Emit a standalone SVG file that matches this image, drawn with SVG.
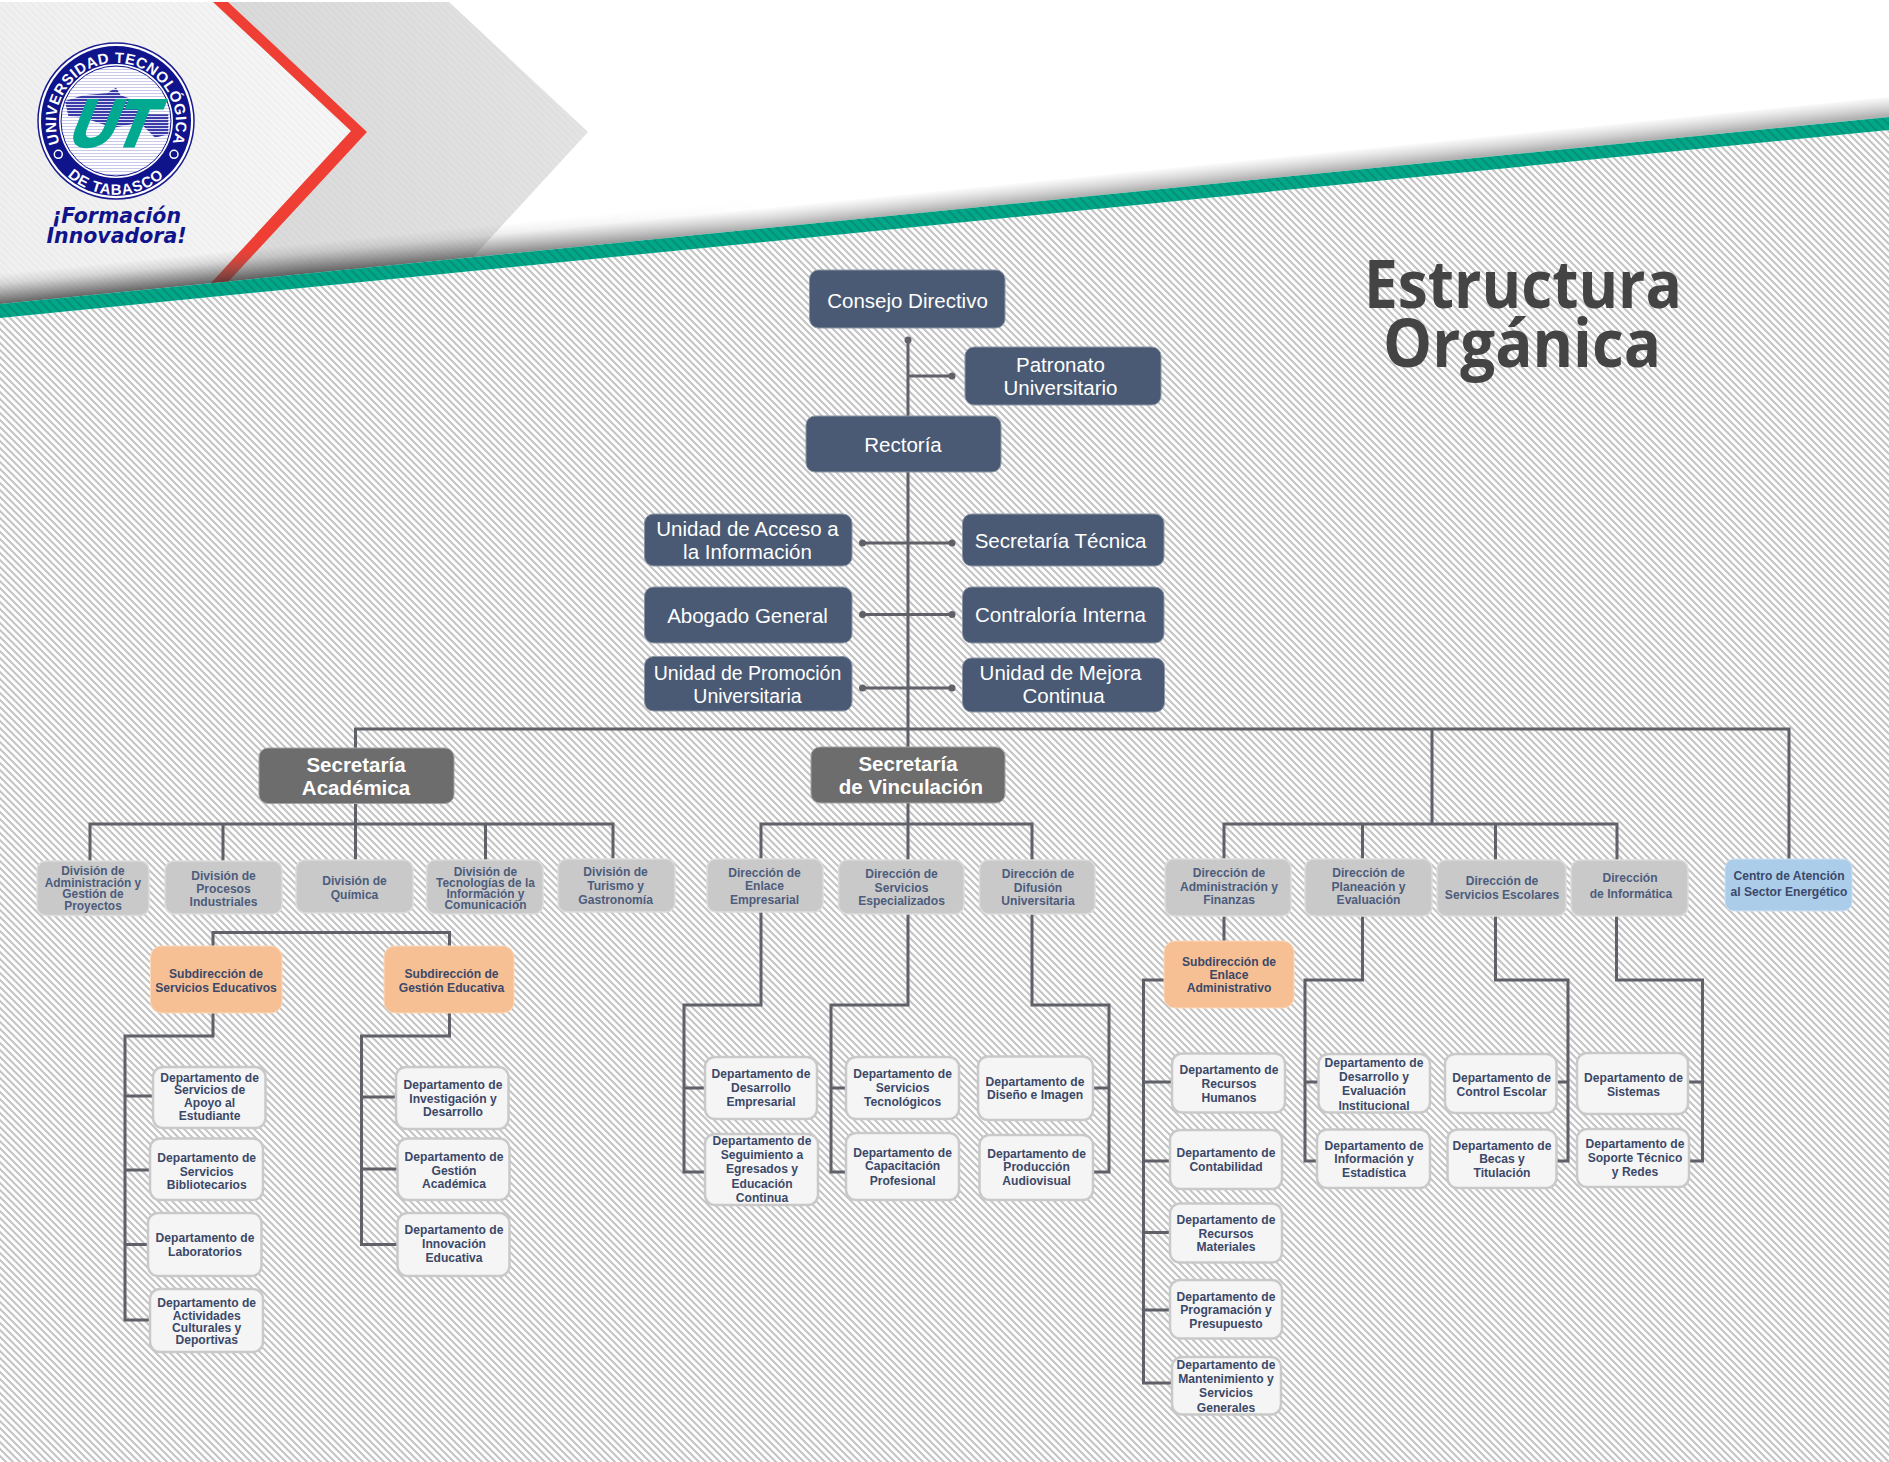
<svg xmlns="http://www.w3.org/2000/svg" width="1889" height="1462" viewBox="0 0 1889 1462">
<style>
text{font-family:"Liberation Sans",Arial,sans-serif;text-anchor:middle}
.dark{fill:#4a5a74;stroke:#8d95a3;stroke-width:1}
.sec{fill:#6d6d6d;stroke:#a3a3a3;stroke-width:1}
.div{fill:#c9c9c9;stroke:#dcdcdc;stroke-width:1.5}
.sub{fill:#f7c094;stroke:#fbd9bd;stroke-width:1}
.blue{fill:#abcdea;stroke:#cfe2f3;stroke-width:1}
.dep{fill:#f5f5f5;stroke:#c9c9c9;stroke-width:2.5}
.w{fill:#fff;font-size:20.5px}
.b{fill:#fff;font-size:20.5px;font-weight:bold}
.t{fill:#3b4868;font-size:12.1px;font-weight:bold}
.div + .t{fill:#4d5c7c}
.s{font-size:11.9px}
.p{font-size:19.500px}
[id^="dep-"] text{transform:translateY(1px)}
.c{fill:none;stroke:#5f6068;stroke-width:3}
.d{fill:#5f6068}
.lg{font-weight:bold;fill:#fff}
</style>
<defs>
<pattern id="h" width="7" height="7" patternUnits="userSpaceOnUse"><rect width="7" height="7" fill="#fff"/><path d="M-3.500 3.500L3.500 10.500M0 0L7 7M3.500 -3.500L10.500 3.500" stroke="#c4c4c4" stroke-width="2" fill="none"/></pattern>
<pattern id="g" width="9" height="9" patternUnits="userSpaceOnUse"><rect width="9" height="9" fill="#00a88a"/><path d="M-4.500 4.500L4.500 13.500M0 0L9 9M4.500 -4.500L13.500 4.500" stroke="#079078" stroke-width="2" fill="none"/></pattern>
<pattern id="f" width="7" height="7" patternUnits="userSpaceOnUse"><path d="M-3.500 3.500L3.500 10.500M0 0L7 7M3.500 -3.500L10.500 3.500" stroke="#000" stroke-opacity=".018" stroke-width="2" fill="none"/></pattern>
<pattern id="ls" width="3" height="3" patternUnits="userSpaceOnUse"><rect width="3" height="3" fill="#fff"/><rect width="3" height="1" fill="#c9c9ea"/></pattern>
<pattern id="lm" width="3" height="3" patternUnits="userSpaceOnUse"><rect width="3" height="3" fill="#dcdcf2"/><rect width="3" height="2" fill="#3b3ca8"/></pattern>
<linearGradient id="sh" gradientUnits="userSpaceOnUse" x1="0" y1="304" x2="-2" y2="284"><stop offset="0" stop-color="#444" stop-opacity=".42"/><stop offset="1" stop-color="#777" stop-opacity="0"/></linearGradient>
<linearGradient id="sh2" gradientUnits="userSpaceOnUse" x1="0" y1="304" x2="-3" y2="274"><stop offset="0" stop-color="#333" stop-opacity=".55"/><stop offset="1" stop-color="#777" stop-opacity="0"/></linearGradient>
<linearGradient id="fade" gradientUnits="userSpaceOnUse" x1="300" x2="760" y1="0" y2="0"><stop offset="0" stop-color="#fff"/><stop offset="1" stop-color="#000"/></linearGradient>
<mask id="mk" maskUnits="userSpaceOnUse" x="0" y="0" width="1889" height="400"><rect width="1889" height="400" fill="url(#fade)"/></mask>
<linearGradient id="pan" x1="0" x2="1" y1="0" y2="0"><stop offset="0" stop-color="#f0f0f0"/><stop offset="1" stop-color="#f7f7f7"/></linearGradient>
<linearGradient id="chev" x1="0" x2="1" y1="0" y2="0"><stop offset="0" stop-color="#dadada"/><stop offset="1" stop-color="#e4e4e4"/></linearGradient>
<path id="arcT" d="M58 138.200A60 60 0 1 1 174 138.200"/>
<path id="arcB" d="M63.300 171.800A72 72 0 0 0 168.700 171.800"/>
</defs>

<g id="background">
<rect width="1889" height="1462" fill="#fff"/>
<polygon points="0,318 1889,130 1889,1462 0,1462" fill="url(#h)"/>
<polygon points="228,2 449,2 588,132 473,257 228,282" fill="url(#chev)"/>
<polygon points="228,2 449,2 588,132 473,257 228,282" fill="url(#f)"/>
<polygon points="0,2 213,2 351,131 211,283 0,304" fill="url(#pan)"/>
<polygon points="0,2 213,2 351,131 211,283 0,304" fill="url(#f)"/>
<polygon points="213,2 228,2 367,132 228,282 211,283 351,131" fill="#ef3e33"/>
<polygon points="0,304 1889,117 1889,97 0,284" fill="url(#sh)"/>
<polygon points="0,304 1889,117 1889,87 0,274" fill="url(#sh2)" mask="url(#mk)"/>
<polygon points="0,304 1889,117 1889,130 0,318" fill="url(#g)"/>
</g>

<g id="logo">
<circle cx="116" cy="121" r="78" fill="#fff" stroke="#1a1c90" stroke-width="1.500"/>
<circle cx="116" cy="121" r="75" fill="#10148c"/>
<circle cx="116" cy="121" r="57" fill="#fff"/>
<circle cx="116" cy="121" r="55" fill="url(#ls)" stroke="#10148c" stroke-width="1"/>
<polygon points="65,101 83.300,95.300 106.700,93.300 116,87.700 120.700,95.300 131.700,99.300 146.700,114.300 168.300,114.300 168.300,134.300 155,137.700 140,122.700 113.300,127.700 83.300,117.700 68.300,116" fill="url(#lm)"/>
<text transform="translate(107 146) skewX(-22)" x="0" y="0" fill="#00a98f" stroke="#00a98f" stroke-width="3" font-size="66" font-weight="bold" textLength="82" lengthAdjust="spacingAndGlyphs">UT</text>
<text class="lg" font-size="15" letter-spacing=".5"><textPath href="#arcT" startOffset="50%">UNIVERSIDAD TECNOLÓGICA</textPath></text>
<text class="lg" font-size="15" letter-spacing=".8"><textPath href="#arcB" startOffset="50%">DE TABASCO</textPath></text>
<circle cx="58.300" cy="154.300" r="4" fill="#10148c" stroke="#fff" stroke-width="1.500"/>
<circle cx="174" cy="154.300" r="4" fill="#10148c" stroke="#fff" stroke-width="1.500"/>
<text style="font-family:'DejaVu Sans',sans-serif" fill="#10148c" font-size="20.500" font-weight="bold" font-style="italic"><tspan x="116.500" y="223">¡Formación</tspan><tspan x="116.500" y="243">Innovadora!</tspan></text>
</g>

<g id="titulo">
<text style="font-family:'Open Sans',sans-serif" fill="#444" font-size="66" font-weight="bold" x="1523" y="308" textLength="318" lengthAdjust="spacingAndGlyphs">Estructura</text>
<text style="font-family:'Open Sans',sans-serif" fill="#444" font-size="66" font-weight="bold" x="1522" y="367" textLength="278" lengthAdjust="spacingAndGlyphs">Orgánica</text>
</g>

<g id="connectors">
<path class="c" d="M908 340V729M908 376H952M862.500 543H952M862.500 614.500H952M862.500 688H952"/>
<path class="c" d="M355.500 748V729H1789V859M908 729V747M1432 729V824"/>
<path class="c" d="M355.500 803V861M90 861V824H613V861M223 824V861M485.500 824V861"/>
<path class="c" d="M908 803V860M761 859V824H1032V860"/>
<path class="c" d="M1224 859V824H1617V860M1362.500 824V859M1495.500 824V860"/>
<path class="c" d="M213 946V932.500H449.500V946"/>
<path class="c" d="M213 1013V1036H125V1320H150M125 1096H153M125 1170H150M125 1244.500H148"/>
<path class="c" d="M449.500 1013V1036H361.500V1244.500H397M361.500 1097H396M361.500 1169H397"/>
<path class="c" d="M761 912V1005H684V1172H705M684 1088H705"/>
<path class="c" d="M908 914V1005H831V1172H846M831 1088H846"/>
<path class="c" d="M1032 914V1005H1109V1172H1093M1109 1088H1093"/>
<path class="c" d="M1224 916V941M1164 980H1143.500V1383H1172M1143.500 1082H1172M1143.500 1161H1170M1143.500 1232.600H1170M1143.500 1310H1170"/>
<path class="c" d="M1362.500 916V980H1305V1161H1317M1305 1082H1318"/>
<path class="c" d="M1495.500 916V980H1568V1161H1556M1568 1082H1558"/>
<path class="c" d="M1616.500 916V980H1702.500V1161H1689M1702.500 1082H1688"/>
<circle class="d" cx="908" cy="340" r="3.500"/>
<circle class="d" cx="952" cy="376" r="3.500"/>
<circle class="d" cx="862.500" cy="543" r="3.500"/><circle class="d" cx="952" cy="543" r="3.500"/>
<circle class="d" cx="862.500" cy="614.500" r="3.500"/><circle class="d" cx="952" cy="614.500" r="3.500"/>
<circle class="d" cx="862.500" cy="688" r="3.500"/><circle class="d" cx="952" cy="688" r="3.500"/>
</g>

<g id="consejo-directivo"><rect class="dark" x="809.500" y="270" width="195.500" height="58" rx="9"/><text class="w" x="907.500" y="308">Consejo Directivo</text></g>
<g id="patronato"><rect class="dark" x="965" y="347" width="196" height="58" rx="9"/><text class="w"><tspan x="1060.500" y="371.500">Patronato</tspan><tspan x="1060.500" y="394.500">Universitario</tspan></text></g>
<g id="rectoria"><rect class="dark" x="806" y="416" width="195" height="56" rx="9"/><text class="w" x="903" y="452">Rectoría</text></g>
<g id="unidad-acceso"><rect class="dark" x="644.500" y="514" width="207.500" height="52" rx="9"/><text class="w"><tspan x="747.500" y="536">Unidad de Acceso a</tspan><tspan x="747.500" y="559">la Información</tspan></text></g>
<g id="secretaria-tecnica"><rect class="dark" x="962.500" y="514" width="201.500" height="52" rx="9"/><text class="w" x="1060.500" y="548">Secretaría Técnica</text></g>
<g id="abogado-general"><rect class="dark" x="644.500" y="587" width="207.500" height="56" rx="9"/><text class="w" x="747.500" y="623">Abogado General</text></g>
<g id="contraloria-interna"><rect class="dark" x="962.500" y="587" width="201.500" height="56" rx="9"/><text class="w" x="1060.500" y="622">Contraloría Interna</text></g>
<g id="unidad-promocion"><rect class="dark" x="644.500" y="656.500" width="207.500" height="54.500" rx="9"/><text class="w p"><tspan x="747.500" y="679.500">Unidad de Promoción</tspan><tspan x="747.500" y="702.500">Universitaria</tspan></text></g>
<g id="unidad-mejora"><rect class="dark" x="962.500" y="658" width="202" height="54" rx="9"/><text class="w"><tspan x="1060.500" y="680">Unidad de Mejora</tspan><tspan x="1063.500" y="703">Continua</tspan></text></g>

<g id="secretaria-academica"><rect class="sec" x="259" y="748" width="195" height="55.500" rx="9"/><text class="b"><tspan x="356" y="771.500">Secretaría</tspan><tspan x="356" y="794.500">Académica</tspan></text></g>
<g id="secretaria-vinculacion"><rect class="sec" x="811" y="747" width="194" height="56" rx="9"/><text class="b"><tspan x="908" y="770.500">Secretaría</tspan><tspan x="911" y="793.500">de Vinculación</tspan></text></g>

<g id="div-administracion"><rect class="div" x="37" y="861" width="112" height="54.500" rx="9"/><text class="t s"><tspan x="93" y="875">División de</tspan><tspan x="93" y="887">Administración y</tspan><tspan x="93" y="898">Gestión de</tspan><tspan x="93" y="910">Proyectos</tspan></text></g>
<g id="div-procesos"><rect class="div" x="165" y="861" width="117" height="53" rx="9"/><text class="t"><tspan x="223.500" y="879.500">División de</tspan><tspan x="223.500" y="892.500">Procesos</tspan><tspan x="223.500" y="905.500">Industriales</tspan></text></g>
<g id="div-quimica"><rect class="div" x="296" y="860" width="117" height="53" rx="9"/><text class="t"><tspan x="354.500" y="885">División de</tspan><tspan x="354.500" y="899">Química</tspan></text></g>
<g id="div-tecnologias"><rect class="div" x="426.500" y="860" width="116.500" height="54" rx="9"/><text class="t s"><tspan x="485.500" y="875.500">División de</tspan><tspan x="485.500" y="886.500">Tecnologías de la</tspan><tspan x="485.500" y="897.500">Información y</tspan><tspan x="485.500" y="908.500">Comunicación</tspan></text></g>
<g id="div-turismo"><rect class="div" x="558" y="859" width="117" height="53" rx="9"/><text class="t"><tspan x="615.600" y="876">División de</tspan><tspan x="615.600" y="890">Turismo y</tspan><tspan x="615.600" y="904">Gastronomía</tspan></text></g>

<g id="dir-enlace"><rect class="div" x="707" y="859" width="116" height="53" rx="9"/><text class="t"><tspan x="764.500" y="877">Dirección de</tspan><tspan x="764.500" y="890">Enlace</tspan><tspan x="764.500" y="904">Empresarial</tspan></text></g>
<g id="dir-servicios"><rect class="div" x="838.500" y="860" width="125.500" height="54" rx="9"/><text class="t"><tspan x="901.500" y="878">Dirección de</tspan><tspan x="901.500" y="892">Servicios</tspan><tspan x="901.500" y="905">Especializados</tspan></text></g>
<g id="dir-difusion"><rect class="div" x="979.500" y="860" width="115.500" height="54" rx="9"/><text class="t"><tspan x="1038" y="878">Dirección de</tspan><tspan x="1038" y="892">Difusión</tspan><tspan x="1038" y="905">Universitaria</tspan></text></g>
<g id="dir-administracion"><rect class="div" x="1165" y="859" width="126" height="57" rx="9"/><text class="t"><tspan x="1229" y="877">Dirección de</tspan><tspan x="1229" y="891">Administración y</tspan><tspan x="1229" y="904">Finanzas</tspan></text></g>
<g id="dir-planeacion"><rect class="div" x="1305" y="859" width="127" height="57" rx="9"/><text class="t"><tspan x="1368.500" y="877">Dirección de</tspan><tspan x="1368.500" y="891">Planeación y</tspan><tspan x="1368.500" y="904">Evaluación</tspan></text></g>
<g id="dir-escolares"><rect class="div" x="1437" y="860" width="129" height="56" rx="9"/><text class="t"><tspan x="1502" y="885">Dirección de</tspan><tspan x="1502" y="899">Servicios Escolares</tspan></text></g>
<g id="dir-informatica"><rect class="div" x="1571" y="860" width="117" height="56" rx="9"/><text class="t"><tspan x="1630" y="882">Dirección</tspan><tspan x="1631" y="898">de Informática</tspan></text></g>
<g id="centro-energetico"><rect class="blue" x="1725" y="859" width="127" height="52" rx="9"/><text class="t"><tspan x="1789" y="880">Centro de Atención</tspan><tspan x="1789" y="896">al Sector Energético</tspan></text></g>

<g id="sub-servicios"><rect class="sub" x="150.500" y="946" width="131.500" height="67" rx="11"/><text class="t"><tspan x="216" y="977.500">Subdirección de</tspan><tspan x="216" y="992">Servicios Educativos</tspan></text></g>
<g id="sub-gestion"><rect class="sub" x="384" y="946" width="130" height="67" rx="11"/><text class="t"><tspan x="451.500" y="977.500">Subdirección de</tspan><tspan x="451.500" y="992">Gestión Educativa</tspan></text></g>
<g id="sub-enlace"><rect class="sub" x="1164" y="941" width="130" height="67" rx="11"/><text class="t"><tspan x="1229" y="965.500">Subdirección de</tspan><tspan x="1229" y="979">Enlace</tspan><tspan x="1229" y="992">Administrativo</tspan></text></g>

<g id="dep-apoyo"><rect class="dep" x="153" y="1067" width="112.500" height="61" rx="10"/><text class="t"><tspan x="209.600" y="1081">Departamento de</tspan><tspan x="209.600" y="1093">Servicios de</tspan><tspan x="209.600" y="1106">Apoyo al</tspan><tspan x="209.600" y="1119">Estudiante</tspan></text></g>
<g id="dep-bibliotecarios"><rect class="dep" x="150" y="1138.500" width="113" height="61.500" rx="10"/><text class="t"><tspan x="206.700" y="1161">Departamento de</tspan><tspan x="206.700" y="1175">Servicios</tspan><tspan x="206.700" y="1188">Bibliotecarios</tspan></text></g>
<g id="dep-laboratorios"><rect class="dep" x="148" y="1213" width="113.500" height="63" rx="10"/><text class="t"><tspan x="205" y="1241">Departamento de</tspan><tspan x="205" y="1255">Laboratorios</tspan></text></g>
<g id="dep-actividades"><rect class="dep" x="150" y="1289" width="113" height="63" rx="10"/><text class="t"><tspan x="206.700" y="1306">Departamento de</tspan><tspan x="206.700" y="1319">Actividades</tspan><tspan x="206.700" y="1331">Culturales y</tspan><tspan x="206.700" y="1343">Deportivas</tspan></text></g>
<g id="dep-investigacion"><rect class="dep" x="396" y="1067" width="112.500" height="62" rx="10"/><text class="t"><tspan x="453" y="1088">Departamento de</tspan><tspan x="453" y="1102">Investigación y</tspan><tspan x="453" y="1115">Desarrollo</tspan></text></g>
<g id="dep-gestion"><rect class="dep" x="397.500" y="1138.500" width="112" height="61.500" rx="10"/><text class="t"><tspan x="454" y="1160">Departamento de</tspan><tspan x="454" y="1174">Gestión</tspan><tspan x="454" y="1187">Académica</tspan></text></g>
<g id="dep-innovacion"><rect class="dep" x="397.500" y="1213" width="112" height="63" rx="10"/><text class="t"><tspan x="454" y="1233">Departamento de</tspan><tspan x="454" y="1247">Innovación</tspan><tspan x="454" y="1261">Educativa</tspan></text></g>

<g id="dep-desarrollo-empresarial"><rect class="dep" x="705" y="1057" width="112" height="62" rx="10"/><text class="t"><tspan x="761" y="1077">Departamento de</tspan><tspan x="761" y="1091">Desarrollo</tspan><tspan x="761" y="1105">Empresarial</tspan></text></g>
<g id="dep-seguimiento"><rect class="dep" x="705" y="1134" width="113" height="71" rx="10"/><text class="t"><tspan x="762" y="1144">Departamento de</tspan><tspan x="762" y="1158">Seguimiento a</tspan><tspan x="762" y="1172">Egresados y</tspan><tspan x="762" y="1187">Educación</tspan><tspan x="762" y="1201">Continua</tspan></text></g>
<g id="dep-tecnologicos"><rect class="dep" x="846" y="1057" width="113" height="62" rx="10"/><text class="t"><tspan x="902.600" y="1077">Departamento de</tspan><tspan x="902.600" y="1091">Servicios</tspan><tspan x="902.600" y="1105">Tecnológicos</tspan></text></g>
<g id="dep-capacitacion"><rect class="dep" x="846" y="1133" width="113" height="67" rx="10"/><text class="t"><tspan x="902.600" y="1156">Departamento de</tspan><tspan x="902.600" y="1169">Capacitación</tspan><tspan x="902.600" y="1184">Profesional</tspan></text></g>
<g id="dep-diseno"><rect class="dep" x="978" y="1056.500" width="115" height="63.500" rx="10"/><text class="t"><tspan x="1035" y="1085">Departamento de</tspan><tspan x="1035" y="1098">Diseño e Imagen</tspan></text></g>
<g id="dep-produccion"><rect class="dep" x="979.500" y="1135" width="113.500" height="65" rx="10"/><text class="t"><tspan x="1036.600" y="1157">Departamento de</tspan><tspan x="1036.600" y="1170">Producción</tspan><tspan x="1036.600" y="1184">Audiovisual</tspan></text></g>

<g id="dep-rh"><rect class="dep" x="1172" y="1053.500" width="113" height="59" rx="10"/><text class="t"><tspan x="1229" y="1073">Departamento de</tspan><tspan x="1229" y="1087">Recursos</tspan><tspan x="1229" y="1101">Humanos</tspan></text></g>
<g id="dep-contabilidad"><rect class="dep" x="1170" y="1130" width="112" height="59" rx="10"/><text class="t"><tspan x="1226" y="1156">Departamento de</tspan><tspan x="1226" y="1170">Contabilidad</tspan></text></g>
<g id="dep-rm"><rect class="dep" x="1170" y="1203.500" width="112" height="59" rx="10"/><text class="t"><tspan x="1226" y="1223">Departamento de</tspan><tspan x="1226" y="1237">Recursos</tspan><tspan x="1226" y="1250">Materiales</tspan></text></g>
<g id="dep-programacion"><rect class="dep" x="1170" y="1280" width="112" height="58.500" rx="10"/><text class="t"><tspan x="1226" y="1300">Departamento de</tspan><tspan x="1226" y="1313">Programación y</tspan><tspan x="1226" y="1327">Presupuesto</tspan></text></g>
<g id="dep-mantenimiento"><rect class="dep" x="1172" y="1357" width="109" height="57.500" rx="10"/><text class="t"><tspan x="1226" y="1368">Departamento de</tspan><tspan x="1226" y="1382">Mantenimiento y</tspan><tspan x="1226" y="1396">Servicios</tspan><tspan x="1226" y="1411">Generales</tspan></text></g>
<g id="dep-evaluacion"><rect class="dep" x="1318.500" y="1054" width="111.500" height="58.500" rx="10"/><text class="t"><tspan x="1374" y="1066">Departamento de</tspan><tspan x="1374" y="1080">Desarrollo y</tspan><tspan x="1374" y="1094">Evaluación</tspan><tspan x="1374" y="1109">Institucional</tspan></text></g>
<g id="dep-informacion"><rect class="dep" x="1317" y="1129.500" width="113" height="58.500" rx="10"/><text class="t"><tspan x="1374" y="1149">Departamento de</tspan><tspan x="1374" y="1162">Información y</tspan><tspan x="1374" y="1176">Estadística</tspan></text></g>
<g id="dep-control"><rect class="dep" x="1445" y="1054" width="111.500" height="59" rx="10"/><text class="t"><tspan x="1501.600" y="1081">Departamento de</tspan><tspan x="1501.600" y="1095">Control Escolar</tspan></text></g>
<g id="dep-becas"><rect class="dep" x="1447.500" y="1129.500" width="109" height="58.500" rx="10"/><text class="t"><tspan x="1502" y="1149">Departamento de</tspan><tspan x="1502" y="1162">Becas y</tspan><tspan x="1502" y="1176">Titulación</tspan></text></g>
<g id="dep-sistemas"><rect class="dep" x="1577" y="1053" width="111" height="61" rx="10"/><text class="t"><tspan x="1633.500" y="1081">Departamento de</tspan><tspan x="1633.500" y="1095">Sistemas</tspan></text></g>
<g id="dep-soporte"><rect class="dep" x="1577" y="1129" width="112" height="58" rx="10"/><text class="t"><tspan x="1635" y="1147">Departamento de</tspan><tspan x="1635" y="1161">Soporte Técnico</tspan><tspan x="1635" y="1175">y Redes</tspan></text></g>
</svg>
